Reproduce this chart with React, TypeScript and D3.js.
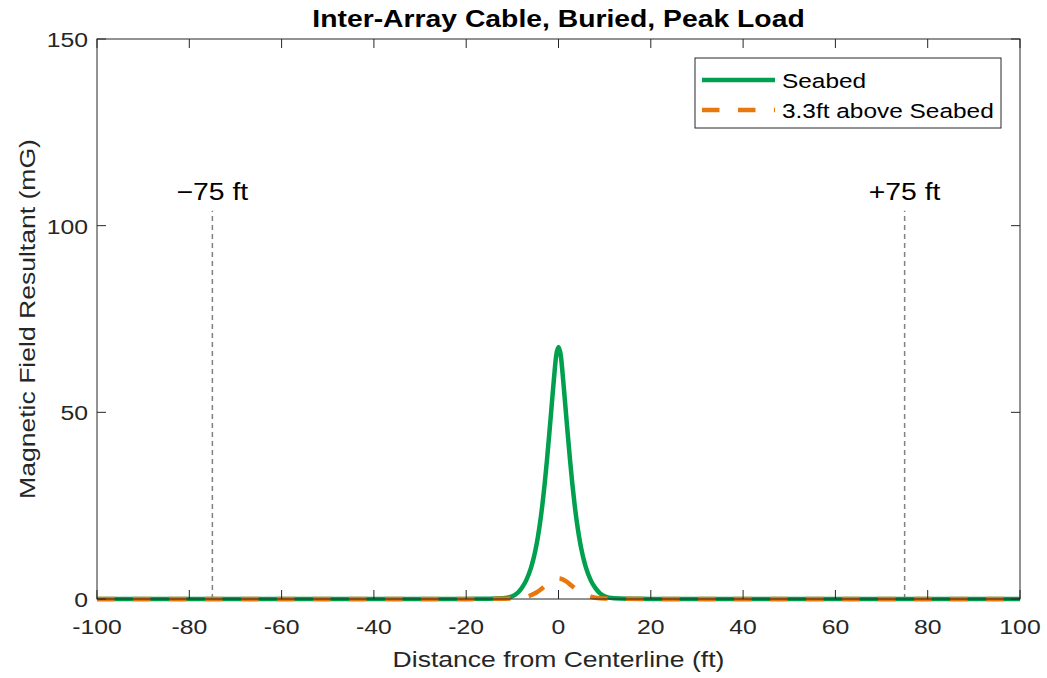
import React from "react";
import * as d3 from "d3";

const xValues = [-100, -20, -15, -12, -10, -9, -8, -7, -6, -5.5, -5, -4.5, -4, -3.5, -3, -2.5, -2, -1.5, -1, -0.5, 0, 0.5, 1, 1.5, 2, 2.5, 3, 3.5, 4, 4.5, 5, 5.5, 6, 7, 8, 9, 10, 12, 15, 20, 100];
const seabed = [0.01, 0.03, 0.06, 0.2, 0.75, 1.5, 2.9, 5.0, 8.2, 10.4, 13.1, 16.4, 20.4, 25.2, 30.8, 37.2, 44.2, 51.5, 58.8, 65.2, 67.5, 65.2, 58.8, 51.5, 44.2, 37.2, 30.8, 25.2, 20.4, 16.4, 13.1, 10.4, 8.2, 5.0, 2.9, 1.5, 0.75, 0.2, 0.06, 0.03, 0.01];
const aboveSeabed = [0, 0.02, 0.04, 0.08, 0.15, 0.22, 0.35, 0.6, 1.0, 1.3, 1.6, 2.0, 2.4, 2.9, 3.4, 3.9, 4.4, 4.85, 5.2, 5.42, 5.5, 5.42, 5.2, 4.85, 4.4, 3.9, 3.4, 2.9, 2.4, 2.0, 1.6, 1.3, 1.0, 0.6, 0.35, 0.22, 0.15, 0.08, 0.04, 0.02, 0];

const xTicks = [-100, -80, -60, -40, -20, 0, 20, 40, 60, 80, 100];
const yTicks = [0, 50, 100, 150];
const markerX = [-75, 75];
const markerLabels = ["\u221275 ft", "+75 ft"];
const markerLineTop = 104;
const markerLabelY = 107;
const seriesNames = ["Seabed", "3.3ft above Seabed"];
const title = "Inter-Array Cable, Buried, Peak Load";
const xLabel = "Distance from Centerline (ft)";
const yLabel = "Magnetic Field Resultant (mG)";

const W = 1047, H = 678;
const L = 97, R = 1020, T = 39, B = 599;
const SX = 1.18;
const FONT = "'Liberation Sans', Arial, Helvetica, sans-serif";
const GREEN = "#00A04E";
const ORANGE = "#E8770F";
const AX = "#262626";

function SText(props: any) {
  const { x, y, anchor = "middle", size = 21, weight = "normal", rotate = 0, fill = AX, children } = props;
  return (
    <text
      transform={`translate(${x},${y}) rotate(${rotate}) scale(${SX},1)`}
      textAnchor={anchor}
      fontSize={size}
      fontWeight={weight}
      fontFamily={FONT}
      fill={fill}
    >
      {children}
    </text>
  );
}

export default function App() {
  const x = d3.scaleLinear().domain([-100, 100]).range([L, R]);
  const y = d3.scaleLinear().domain([0, 150]).range([B, T]);
  const line = d3
    .line<number>()
    .x((_, i) => x(xValues[i]))
    .y((d) => y(d))
    .curve(d3.curveMonotoneX);

  return (
    <svg width={W} height={H} style={{ position: "absolute", left: 0, top: 0, background: "#fff" }}>
      <rect x={0} y={0} width={W} height={H} fill="#fff" />
      {markerX.map((m, i) => (
        <g key={i}>
          <line x1={x(m)} x2={x(m)} y1={y(0)} y2={y(markerLineTop)} stroke="#808080" strokeWidth={1.5} strokeDasharray="5,4" />
          <SText x={x(m)} y={y(markerLabelY)} size={24} fill="#000">{markerLabels[i]}</SText>
        </g>
      ))}
      <path d={line(seabed) || ""} fill="none" stroke={GREEN} strokeWidth={4.5} strokeLinejoin="round" />
      <path d={line(aboveSeabed) || ""} fill="none" stroke={ORANGE} strokeWidth={4.5} strokeDasharray="17.5,18.5" />
      <rect x={L} y={T} width={R - L} height={B - T} fill="none" stroke={AX} strokeWidth={1} />
      {xTicks.map((t) => (
        <g key={"x" + t}>
          <line x1={x(t)} x2={x(t)} y1={B} y2={B - 9} stroke={AX} strokeWidth={1} />
          <line x1={x(t)} x2={x(t)} y1={T} y2={T + 9} stroke={AX} strokeWidth={1} />
          <SText x={x(t)} y={634} size={21}>{String(t)}</SText>
        </g>
      ))}
      {yTicks.map((t) => (
        <g key={"y" + t}>
          <line x1={L} x2={L + 9} y1={y(t)} y2={y(t)} stroke={AX} strokeWidth={1} />
          <line x1={R} x2={R - 9} y1={y(t)} y2={y(t)} stroke={AX} strokeWidth={1} />
          <SText x={88} y={y(t) + 8} anchor="end" size={21}>{String(t)}</SText>
        </g>
      ))}
      <SText x={(L + R) / 2} y={27} size={24} weight="bold" fill="#000">{title}</SText>
      <SText x={(L + R) / 2} y={667} size={22.5}>{xLabel}</SText>
      <SText x={35} y={(T + B) / 2} size={22.5} rotate={-90}>{yLabel}</SText>
      <rect x={695} y={58} width={306} height={70} fill="#fff" stroke={AX} strokeWidth={1} />
      <line x1={702} x2={775} y1={80} y2={80} stroke={GREEN} strokeWidth={4.5} />
      <line x1={702} x2={775} y1={110} y2={110} stroke={ORANGE} strokeWidth={4.5} strokeDasharray="17.5,18.5" />
      <SText x={782} y={87.5} anchor="start" size={20.7} fill="#000">{seriesNames[0]}</SText>
      <SText x={782} y={117.5} anchor="start" size={20.7} fill="#000">{seriesNames[1]}</SText>
    </svg>
  );
}
